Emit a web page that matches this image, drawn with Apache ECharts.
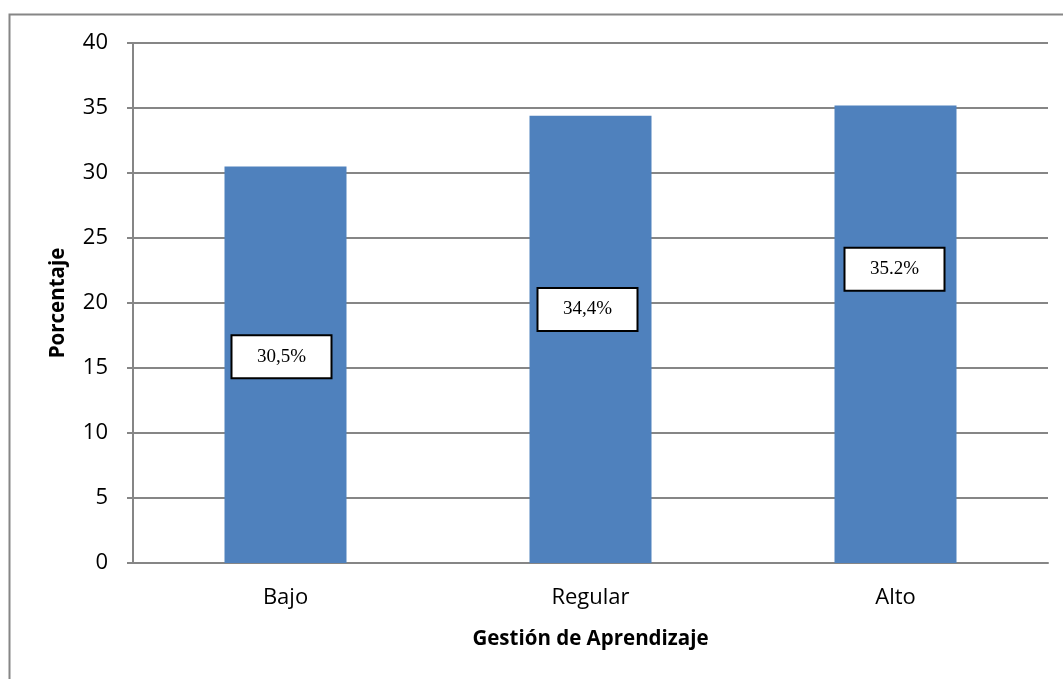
<!DOCTYPE html>
<html>
<head>
<meta charset="utf-8">
<script src="https://cdn.jsdelivr.net/npm/echarts@6/dist/echarts.min.js"></script>
<style>
  html, body { margin: 0; padding: 0; background: #fff; }
  #chart { width: 1063px; height: 679px; }
</style>
</head>
<body>
<div id="chart"></div>
<script>
// data
const categories = ['Bajo', 'Regular', 'Alto']
const values = [30.5, 34.4, 35.2]
const valueLabels = ['30,5%', '34,4%', '35.2%']
const yTicks = [0, 5, 10, 15, 20, 25, 30, 35, 40]

// label boxes are hand-placed in the original, not centred
const labelOffsets = [[-4, -8], [-3, -30], [-1, -65]]

const chart = echarts.init(document.getElementById('chart'), null, { renderer: 'canvas' })

const gray = '#868686'
const sans = '"Open Sans", "Noto Sans", sans-serif'

chart.setOption({
  animation: false,
  backgroundColor: '#fff',
  grid: { left: 133, right: 15, top: 43, bottom: 116 },
  graphic: [
    {
      // chart frame, right and bottom edges fall outside the picture
      type: 'rect',
      left: 7, top: 12,
      shape: { width: 1200, height: 800 },
      style: { fill: 'none', stroke: gray, lineWidth: 2 },
      silent: true,
    },
  ],
  xAxis: {
    type: 'category',
    data: categories,
    name: 'Gestión de Aprendizaje',
    nameLocation: 'middle',
    nameGap: 66,
    nameTextStyle: { fontFamily: sans, fontWeight: 'bold', fontSize: 20.5, color: '#000' },
    axisLine: { lineStyle: { color: gray, width: 2 } },
    axisTick: { show: false },
    axisLabel: { fontFamily: sans, fontSize: 22, color: '#000', margin: 24 },
  },
  yAxis: {
    type: 'value',
    min: yTicks[0],
    max: yTicks[yTicks.length - 1],
    interval: yTicks[1] - yTicks[0],
    name: 'Porcentaje',
    nameLocation: 'middle',
    nameGap: 64,
    nameRotate: 90,
    nameTextStyle: { fontFamily: sans, fontWeight: 'bold', fontSize: 20.5, color: '#000' },
    axisLine: { show: true, lineStyle: { color: gray, width: 2 } },
    axisTick: { show: true, length: 6, lineStyle: { color: gray, width: 2 } },
    axisLabel: { fontFamily: sans, fontSize: 22, color: '#000', margin: 25 },
    splitLine: { lineStyle: { color: gray, width: 2 } },
  },
  series: [
    {
      type: 'bar',
      barWidth: 122,
      itemStyle: { color: '#4f81bd' },
      data: values.map((v, i) => ({
        value: v,
        label: {
          show: true,
          position: 'inside',
          offset: labelOffsets[i],
          formatter: valueLabels[i],
          fontFamily: '"Liberation Serif", "Times New Roman", serif',
          fontSize: 19,
          color: '#000',
          backgroundColor: '#fff',
          borderColor: '#000',
          borderWidth: 2,
          width: 84,
          align: 'center',
          padding: [11, 7, 11, 7],
        },
      })),
    },
  ],
})
</script>
</body>
</html>
